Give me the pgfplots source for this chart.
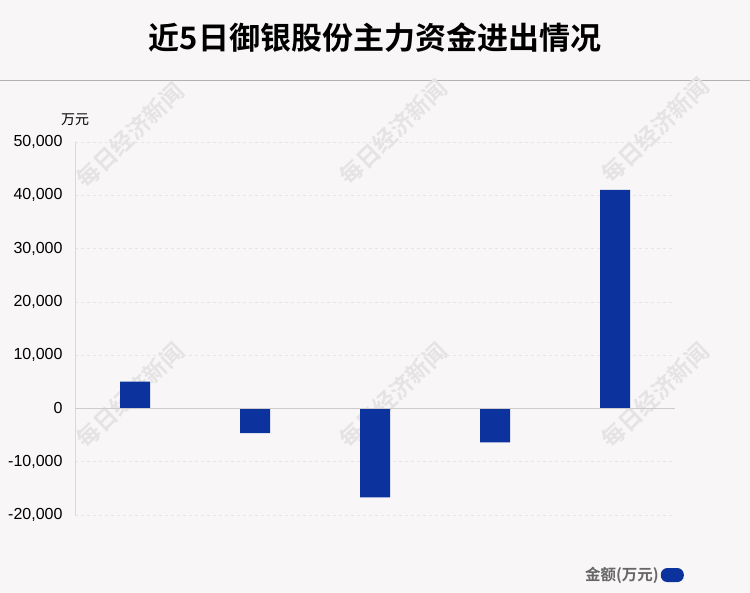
\documentclass[border=0pt]{standalone}
\usepackage{pgfplots}
\pgfplotsset{compat=1.18}
\usepackage{fontspec}
\setmainfont{Liberation Sans}
\newfontfamily\cjk{Noto Sans CJK SC}
\newfontfamily\cjkb{Noto Sans CJK SC Bold}
\definecolor{bg}{HTML}{F9F6F7}
\definecolor{barblue}{HTML}{0C329E}
\definecolor{wm}{HTML}{E6E3E4}
\begin{document}
\begin{tikzpicture}
\path[use as bounding box, fill=bg] (0pt,0pt) rectangle (750pt,-593pt);
\draw[color=black!30,line width=1pt] (0pt,-81pt) -- (750pt,-81pt);
\node[font=\cjkb\fontsize{31}{35}\selectfont] at (375pt,-38pt) {近5日御银股份主力资金进出情况};
\foreach \x/\y in {130/-135,393/-132,655/-130,130/-395,393/-395,655/-395}
  \node[rotate=44,font=\cjkb\fontsize{23}{26}\selectfont,text=wm] at (\x pt,\y pt) {每日经济新闻};
\node[font=\cjk\fontsize{14}{16}\selectfont] at (75pt,-120pt) {万元};
\begin{axis}[
  at={(75pt,-515pt)}, anchor=south west,
  scale only axis, width=600pt, height=373pt,
  xmin=-0.5, xmax=4.5, ymin=-20000, ymax=50000,
  ytick={-20000,-10000,0,10000,20000,30000,40000,50000},
  xtick={0,1,2,3,4},
  xticklabels={4月6日,4月7日,4月8日,4月9日,4月12日},
  /pgf/number format/assume math mode=true,
  /pgf/number format/1000 sep={,},
  scaled y ticks=false,
  yticklabel style={font=\fontsize{16}{18}\selectfont, xshift=-9pt},
  xticklabel style={font=\cjk\fontsize{15}{18}\selectfont, yshift=-3pt},
  major tick length=0pt,
  axis x line=none,
  axis y line*=left,
  y axis line style={draw=black!15, line width=0.8pt},
  ymajorgrids, grid style={dashed, draw=black!10, line width=0.7pt},
  axis background/.style={fill=none},
  legend style={at={(1.02,-0.161)}, anchor=east, draw=none, fill=none,
    font=\cjkb\fontsize{15.5}{18}\selectfont, text=black!60},
  legend plot pos=right,
  legend image code/.code={\fill[barblue, rounded corners=6.5pt] (0pt,-7pt) rectangle (23pt,7pt);},
]
\addplot[ybar, bar width=30pt, fill=barblue, draw=none] coordinates {
 (0,5050) (1,-4620) (2,-16670) (3,-6370) (4,41010)};
\addlegendentry{金额(万元)}
\draw[black!20, line width=1.5pt] (axis cs:-0.5,0) -- (axis cs:4.5,0);
\end{axis}
\end{tikzpicture}
\end{document}
